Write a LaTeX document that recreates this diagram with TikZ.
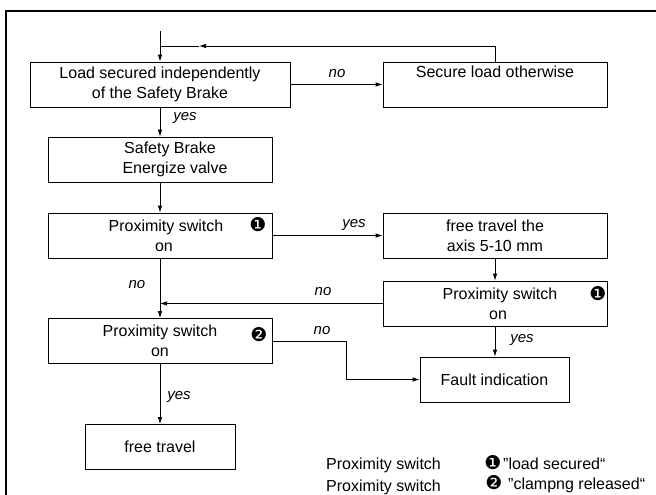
\documentclass[tikz,border=0pt]{standalone}
\usepackage{fontspec}
\setmainfont{Liberation Sans}
\newfontfamily\dvfont{DejaVu Sans}
\usetikzlibrary{arrows.meta}
\begin{document}
\begin{tikzpicture}[x=1pt,y=-1pt,
  every node/.style={font=\fontsize{16}{20}\selectfont},
  box/.style={draw, line width=0.8pt, inner sep=0pt, minimum height=45pt, align=center},
  lbl/.style={font=\fontsize{15}{18}\selectfont\itshape, inner sep=0pt},
  num/.style={font=\dvfont\fontsize{19}{19}\selectfont, inner sep=0pt},
  conn/.style={line width=0.8pt},
  arr/.style={line width=0.8pt, -{Latex[length=7pt,width=4.5pt]}},
  frame/.style={line width=1.4pt}
]
\clip (0,0) rectangle (656,495);
\fill[white] (0,0) rectangle (656,495);
\draw[frame] (6,500) -- (6,11) -- (660,11);

% boxes
\node[box, minimum width=260pt] (b1) at (160,84.5) {Load secured independently\\of the Safety Brake};
\node[box, minimum width=224pt] (sec) at (495,84.5) {Secure load otherwise\\\strut};
\node[box, minimum width=224pt] (b2) at (160,159.5) {\hspace*{20pt}Safety Brake\\\hspace*{30pt}Energize valve};
\node[box, minimum width=224pt] (b3) at (160,235.5) {\hspace*{12pt}Proximity switch\\\hspace*{8pt}on};
\node[box, minimum width=224pt] (b4) at (495,235.5) {free travel the\\axis 5-10 mm};
\node[box, minimum width=224pt] (b5) at (495,303.5) {\hspace*{10pt}Proximity switch\\\hspace*{6pt}on};
\node[box, minimum width=224pt] (b6) at (160,341) {Proximity switch\\on};
\node[box, minimum width=149pt] (b7) at (494.5,379.5) {Fault indication};
\node[box, minimum width=150pt] (b8) at (160,447) {free travel};

% circled numbers
\node[num] (n3) at (258,225) {❶};
\node[num] (n5) at (598,294) {❶};
\node[num] (n6) at (259,335) {❷};

% connectors
\coordinate (start) at (160,31);
\draw[arr] (start) -- (b1.north);
\coordinate (fbm) at (199,46);
\coordinate (fbj) at (160,46);
\draw[arr] (sec.north) |- (fbm);
\draw[conn] (fbm) -- (fbj);
\draw[arr] (b1.east) -- (sec.west);
\draw[arr] (b1.south) -- (b2.north);
\draw[arr] (b2.south) -- (b3.north);
\draw[arr] (b3.east) -- (b4.west);
\draw[arr] (b4.south) -- (b5.north);
\coordinate (j) at (160,303.5);
\draw[arr] (b5.west) -- (j);
\draw[arr] (b3.south) -- (b6.north);
\coordinate (bend) at (346,341);
\draw[arr] (b6.east) -- (bend) |- (b7.west);
\draw[arr] (b5.south) -- (b5.south |- b7.north);
\draw[arr] (b6.south) -- (b8.north);

% labels
\node[lbl] (l1) at (337,74) {no};
\node[lbl] (l2) at (185,118) {yes};
\node[lbl] (l3) at (354,225) {yes};
\node[lbl] (l4) at (137,285) {no};
\node[lbl] (l5) at (323,292) {no};
\node[lbl] (l6) at (322,331) {no};
\node[lbl] (l7) at (522,340) {yes};
\node[lbl] (l8) at (179,397) {yes};

% legend
\node[anchor=base west, inner sep=0pt] (lg1) at (326,469) {Proximity switch};
\node[num] (lgn1) at (493,463) {❶};
\node[anchor=base west, inner sep=0pt] (lgt1) at (503,469) {"load secured“};
\node[anchor=base west, inner sep=0pt] (lg2) at (326,491) {Proximity switch};
\node[num] (lgn2) at (494,483) {❷};
\node[anchor=base west, inner sep=0pt] (lgt2) at (508,489) {"clampng released“};
\end{tikzpicture}
\end{document}
